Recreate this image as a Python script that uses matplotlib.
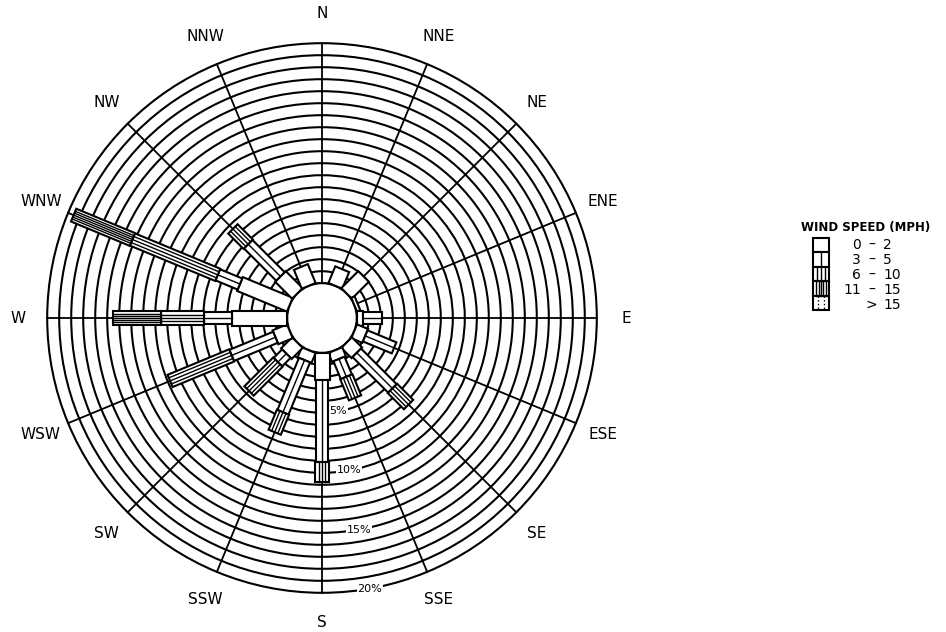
import numpy as np
import matplotlib.pyplot as plt
from matplotlib.patches import Polygon, Circle

# wind rose: percent frequency by direction and speed class
dirs = ['N', 'NNE', 'NE', 'ENE', 'E', 'ESE', 'SE', 'SSE',
        'S', 'SSW', 'SW', 'WSW', 'W', 'WNW', 'NW', 'NNW']
bearings = np.arange(16) * 22.5

spd_classes = ['0 - 2', '3 - 5', '6 - 10', '11 - 15', '> 15']
spd_0_2   = [0.0, 1.5, 2.0, 0.3, 0.5, 1.0, 1.2, 0.8, 2.25, 0.9, 1.3, 1.3, 4.6, 4.5, 2.0, 1.7]
spd_3_5   = [0.0, 0.0, 0.0, 0.0, 1.6, 2.6, 4.2, 1.6, 6.85, 4.7, 1.0, 3.95, 2.3, 2.0, 3.8, 0.0]
spd_6_10  = [0.0, 0.0, 0.0, 0.0, 0.0, 0.0, 1.9, 1.9, 1.7, 1.8, 3.4, 5.55, 3.6, 7.7, 1.8, 0.0]
spd_11_15 = [0.0, 0.0, 0.0, 0.0, 0.0, 0.0, 0.0, 0.0, 0.0, 0.0, 0.0, 0.0, 4.0, 5.3, 0.0, 0.0]
spd_gt15  = [0.0] * 16

ring_labels = [5, 10, 15, 20]

calm_r = 2.9      # calm circle radius, in percent units
n_rings = 20
seg_w = [1.25, 1.0, 1.1, 1.15, 1.2]

PX = 12.0   # pixels per percent
W, H = 946, 632
cx, cy = 322, 318

fig = plt.figure(figsize=(W / 100, H / 100), dpi=100)
ax = fig.add_axes([0, 0, 1, 1])
ax.set_xlim(-cx / PX, (W - cx) / PX)
ax.set_ylim(-(H - cy) / PX, cy / PX)
ax.set_aspect('equal')
ax.axis('off')


def unit(b):
    a = np.deg2rad(b)
    return np.array([np.sin(a), np.cos(a)])


def segment(origin, u, r0, r1, w, k):
    n = np.array([-u[1], u[0]])
    pts = [origin + u * r0 + n * w / 2, origin + u * r1 + n * w / 2,
           origin + u * r1 - n * w / 2, origin + u * r0 - n * w / 2]
    ax.add_patch(Polygon(pts, closed=True, fc='white', ec='black', lw=1.5, zorder=4))
    style = '-'
    if k == 1:
        offs = [0.0]
    elif k == 2:
        offs = [-0.25, 0.0, 0.25]
    elif k == 3:
        offs = [-0.3, -0.15, 0.0, 0.15, 0.3]
    elif k == 4:
        offs = [-0.2, 0.2]
        style = ':'
    else:
        offs = []
    for o in offs:
        a = origin + u * r0 + n * o * w
        b = origin + u * r1 + n * o * w
        ax.plot([a[0], b[0]], [a[1], b[1]], color='black', lw=1.0, ls=style, zorder=5)


# rings and spokes
for k in range(n_rings + 1):
    ax.add_patch(Circle((0, 0), calm_r + k, fill=False, ec='black', lw=1.5, zorder=1))
for b in bearings:
    u = unit(b)
    p0, p1 = u * calm_r, u * (calm_r + n_rings)
    ax.plot([p0[0], p1[0]], [p0[1], p1[1]], color='black', lw=1.3, zorder=1)
ax.add_patch(Circle((0, 0), calm_r, fc='white', ec='black', lw=1.5, zorder=2))

# bars
classes = [spd_0_2, spd_3_5, spd_6_10, spd_11_15, spd_gt15]
for i, b in enumerate(bearings):
    u = unit(b)
    r = calm_r
    for k, vals in enumerate(classes):
        v = vals[i]
        if v <= 0:
            continue
        segment(np.zeros(2), u, r, r + v, seg_w[k], k)
        r += v

# ring percentage labels
for p in ring_labels:
    pos = unit(170) * (calm_r + p)
    ax.text(pos[0], pos[1], '%d%%' % p, fontsize=8, ha='center', va='center', zorder=3,
            bbox=dict(fc='white', ec='none', pad=0.6))

# compass labels
for d, b in zip(dirs, bearings):
    pos = unit(b) * (calm_r + n_rings + 2.45)
    ax.text(pos[0], pos[1], d, fontsize=11, ha='center', va='center')

# legend
ax.text((866 - cx) / PX, (cy - 227) / PX, 'WIND SPEED (MPH)', fontsize=8.5,
        fontweight='bold', ha='center', va='center')
leg_org = np.array([(821 - cx) / PX, (cy - 238) / PX])
seg_h = 14.4 / PX
left_parts = ['0', '3', '6', '11', '>']
right_parts = ['2', '5', '10', '15', '15']
for k in range(len(spd_classes)):
    segment(leg_org, np.array([0.0, -1.0]), k * seg_h, (k + 1) * seg_h, 16 / PX, k)
    ty = (cy - (245 + 15 * k)) / PX
    if k < 4:
        ax.text((861 - cx) / PX, ty, left_parts[k], fontsize=10, ha='right', va='center')
        ax.text((872 - cx) / PX, ty, '\u2013', fontsize=10, ha='center', va='center')
    else:
        ax.text((871 - cx) / PX, ty, left_parts[k], fontsize=10, ha='center', va='center')
    ax.text((883 - cx) / PX, ty, right_parts[k], fontsize=10, ha='left', va='center')

fig.savefig('out.png', dpi=100, facecolor='white')
